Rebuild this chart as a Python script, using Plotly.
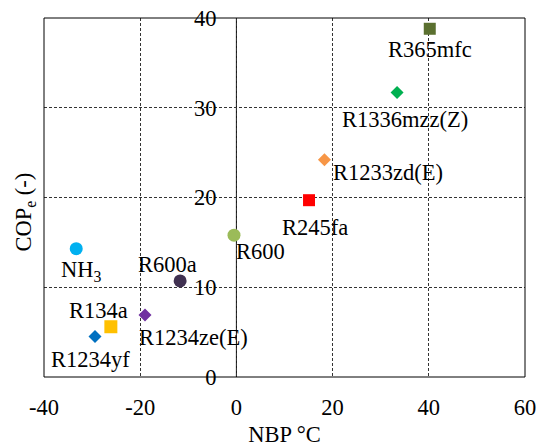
import plotly.graph_objects as go

# Data
names = ["R365mfc", "R1336mzz(Z)", "R1233zd(E)", "R245fa", "R600",
         "NH<sub>3</sub>", "R600a", "R1234ze(E)", "R134a", "R1234yf"]
nbp = [40.2, 33.4, 18.3, 15.1, -0.5, -33.3, -11.7, -19.0, -26.1, -29.4]
cop = [38.8, 31.7, 24.2, 19.7, 15.8, 14.3, 10.7, 6.9, 5.6, 4.5]
x_ticks = [-40, -20, 0, 20, 40, 60]
x_tick_text = ["-40", "-20", "0", "20", "40", "60"]
y_ticks = [0, 10, 20, 30, 40]
y_tick_text = ["0", "10", "20", "30", "40"]

# Styles
colors = ["#5B7030", "#00B050", "#F79646", "#FF0000", "#9BBB59",
          "#00B0F0", "#403151", "#7030A0", "#FFC000", "#0070C0"]
symbols = ["square", "diamond", "diamond", "square", "circle",
           "circle", "circle", "diamond", "square", "diamond"]
sizes = [12, 10, 10, 12, 13, 13, 13, 10, 13, 10]
# label offsets (pixels: right, down)
label_dx = [0, 8, 64, 6, 27, 5, -13, 48, -12, -4]
label_dy = [21, 27, 13, 27, 16, 22, -16, 22, -16, 23]

FONT = "Liberation Serif"
FS = 22.5

fig = go.Figure()
for i in range(len(names)):
    fig.add_trace(go.Scatter(
        x=[nbp[i]], y=[cop[i]], mode="markers",
        marker=dict(symbol=symbols[i], size=sizes[i], color=colors[i],
                    line=dict(width=0)),
        showlegend=False, cliponaxis=False, hoverinfo="skip"))
    fig.add_annotation(x=nbp[i], y=cop[i], text=names[i], showarrow=False,
                       xanchor="center", yanchor="middle",
                       xshift=label_dx[i], yshift=-label_dy[i],
                       font=dict(family=FONT, size=FS, color="black"))

pos0 = (0 - x_ticks[0]) / (x_ticks[-1] - x_ticks[0])

fig.update_layout(
    width=539, height=447,
    margin=dict(l=44, r=14, t=18, b=70),
    paper_bgcolor="white", plot_bgcolor="white",
    font=dict(family=FONT, size=FS, color="black"),
    xaxis=dict(range=[x_ticks[0], x_ticks[-1]], tickvals=x_ticks, ticktext=x_tick_text,
               showgrid=True, gridcolor="#333333", griddash="3px,2px", gridwidth=1,
               zeroline=False, showline=False, ticks="", automargin=False,
               ticklabelstandoff=14, ticklabeloverflow="allow",
               title=dict(text="NBP °C", standoff=13,
                          font=dict(family=FONT, size=FS))),
    yaxis=dict(range=[y_ticks[0], y_ticks[-1]], tickvals=y_ticks, ticktext=y_tick_text,
               anchor="free", position=pos0, automargin=False,
               showgrid=True, gridcolor="#333333", griddash="3px,2px", gridwidth=1,
               zeroline=False, showline=False, ticklabeloverflow="allow",
               ticks="", ticklabelstandoff=20),
)

fig.add_annotation(text="COP<sub>e</sub> (-)", xref="paper", yref="paper",
                   x=-0.04, y=0.46, xanchor="center", yanchor="middle",
                   textangle=-90, showarrow=False,
                   font=dict(family=FONT, size=FS, color="black"))

fig.add_shape(type="line", xref="x", yref="y domain", x0=0, x1=0, y0=0, y1=1,
              line=dict(color="black", width=1), layer="below")
fig.add_shape(type="rect", xref="x domain", yref="y domain", x0=0, x1=1, y0=0, y1=1,
              line=dict(color="black", width=1), layer="above")

fig.write_html("out.html",
               config={"displayModeBar": False},
               post_script="document.body.style.margin='0';document.body.style.overflow='hidden';")
